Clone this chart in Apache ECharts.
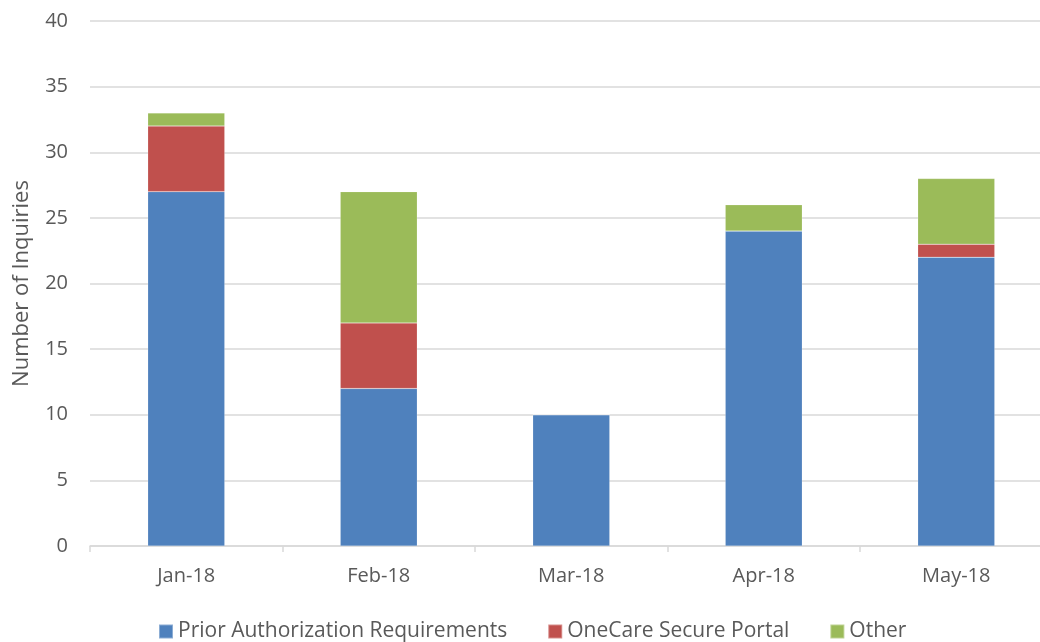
<!DOCTYPE html>
<html>
<head>
<meta charset="utf-8">
<script src="https://cdn.jsdelivr.net/npm/echarts@6/dist/echarts.min.js"></script>
<style>
html,body{margin:0;padding:0;background:#fff;}
#main{width:1040px;height:642px;}
</style>
</head>
<body>
<div id="main"></div>
<script>
// data
let months=['Jan-18','Feb-18','Mar-18','Apr-18','May-18'];
let priorAuth=[27,12,10,24,22];
let oneCare=[5,5,0,0,1];
let other=[1,10,0,2,5];
let seriesNames=['Prior Authorization Requirements','OneCare Secure Portal','Other'];

let font='"Open Sans", "Liberation Sans", sans-serif';
let txtColor='#595959';

function initChart(domid){
	let dom=document.getElementById(domid);
	let inst=echarts.getInstanceByDom(dom);
	if(inst) return inst;
	return echarts.init(dom,null,{renderer:'canvas'});
}

let mychart=initChart('main');

function barSeries(name,data,color){
	return {
		name:name,
		type:'bar',
		stack:'total',
		data:data,
		barCategoryGap:'60%',
		itemStyle:{color:color,borderColor:'rgba(255,255,255,0.35)',borderWidth:0.5},
		emphasis:{disabled:true}
	};
}

mychart.setOption({
	animation:false,
	textStyle:{fontFamily:font},
	grid:{left:90,right:-12.5,top:21,bottom:96,containLabel:false,outerBoundsMode:'none'},
	legend:{
		bottom:-5,
		left:153,
		itemWidth:14,
		itemHeight:14,
		itemGap:40,
		icon:'rect',
		textStyle:{color:txtColor,fontSize:21,fontFamily:font},
		data:seriesNames
	},
	xAxis:{
		type:'category',
		data:months,
		axisLine:{lineStyle:{color:'#d9d9d9',width:1.5}},
		axisTick:{show:true,length:6,lineStyle:{color:'#d9d9d9',width:1.5}},
		axisLabel:{color:txtColor,fontSize:20,margin:20,fontFamily:font}
	},
	yAxis:{
		type:'value',
		min:0,
		max:40,
		interval:5,
		name:'Number of Inquiries',
		nameLocation:'middle',
		nameGap:57,
		nameTextStyle:{color:txtColor,fontSize:22,fontFamily:font},
		axisLine:{show:false},
		axisTick:{show:false},
		axisLabel:{color:txtColor,fontSize:20,margin:22,fontFamily:font},
		splitLine:{lineStyle:{color:'#d9d9d9',width:1.5}}
	},
	series:[
		barSeries(seriesNames[0],priorAuth,'#4F81BD'),
		barSeries(seriesNames[1],oneCare,'#C0504D'),
		barSeries(seriesNames[2],other,'#9BBB59')
	]
});
</script>
</body>
</html>
